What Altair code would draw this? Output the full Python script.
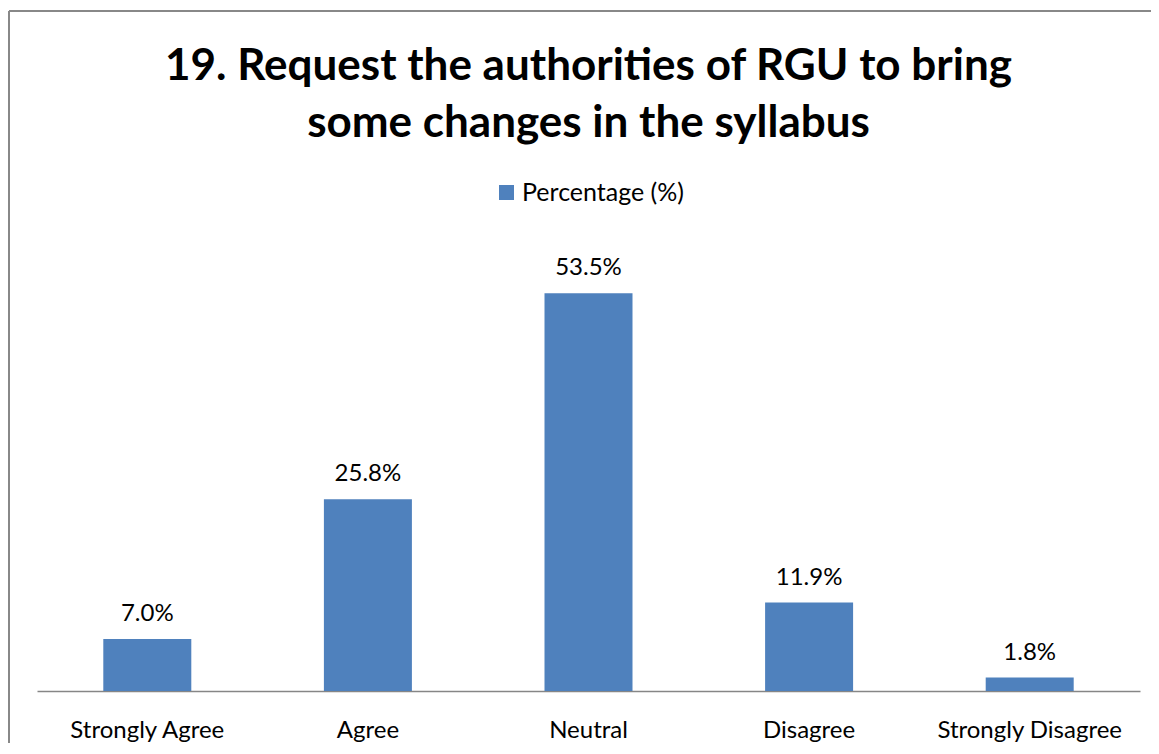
import altair as alt
import pandas as pd

categories = ["Strongly Agree", "Agree", "Neutral", "Disagree", "Strongly Disagree"]
values = [7.0, 25.8, 53.5, 11.9, 1.8]
labels = ["7.0%", "25.8%", "53.5%", "11.9%", "1.8%"]
series = "Percentage (%)"

df = pd.DataFrame({"category": categories, "value": values, "label": labels, "series": series})

FONT = "Lato"
W, H = 1103, 446

x = alt.X("category:N", sort=categories, title=None,
          scale=alt.Scale(paddingInner=0, paddingOuter=0),
          axis=alt.Axis(labelAngle=0, labelFont=FONT, labelFontSize=24, labelColor="#000000",
                        labelLimit=0, domainColor="#868686", domainWidth=1.5, ticks=False,
                        labelPadding=27))
y = alt.Y("value:Q", title=None, scale=alt.Scale(domain=[0, 60], nice=False), axis=None)

bars = alt.Chart(df).mark_bar(size=88, color="#4F81BD").encode(
    x=x, y=y,
    color=alt.Color("series:N", scale=alt.Scale(range=["#4F81BD"]),
                    legend=alt.Legend(title=None, orient="none", legendX=457, legendY=-65,
                                      symbolType="square", symbolSize=225, symbolStrokeWidth=0,
                                      labelFont=FONT, labelFontSize=25, labelColor="#000000",
                                      labelLimit=0, labelOffset=3, padding=0, symbolOpacity=1))
)
text = alt.Chart(df).mark_text(baseline="bottom", dy=-13, font=FONT, fontSize=24, color="#000000").encode(
    x=alt.X("category:N", sort=categories), y=alt.Y("value:Q"), text="label:N"
)
border = alt.Chart(df).mark_rule(color="#888888", strokeWidth=2).encode(
    x=alt.value(-28), x2=alt.value(1200), y=alt.value(-234)
)
border2 = alt.Chart(df).mark_rule(color="#888888", strokeWidth=2).encode(
    x=alt.value(-28), y=alt.value(-234), y2=alt.value(600)
)

chart = alt.layer(border, border2, bars, text).properties(
    width=W, height=H,
    autosize=alt.AutoSizeParams(type="none"),
    padding={"left": 29, "top": 237, "right": 11, "bottom": 52},
    title=alt.TitleParams(["19. Request the authorities of RGU to bring", "some changes in the syllabus"],
                          font=FONT, fontSize=44, fontWeight="bold", color="#000000",
                          anchor="middle", lineHeight=57, offset=-136),
).configure_view(stroke=None)

chart.save("out.html", embed_options={"renderer": "svg", "actions": False})
